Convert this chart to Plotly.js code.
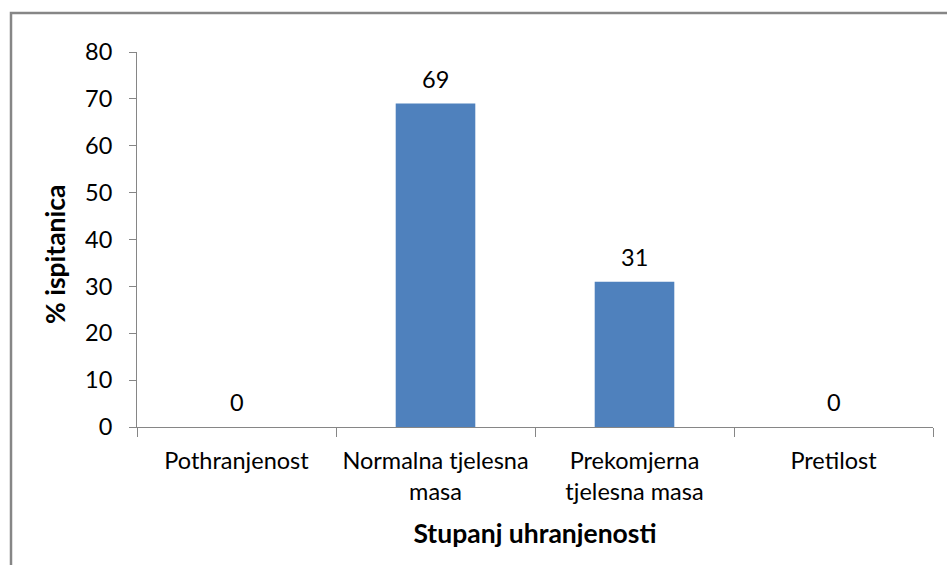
<!DOCTYPE html>
<html>
<head>
<meta charset="utf-8">
<script src="https://cdn.plot.ly/plotly-3.0.1.min.js"></script>
<style>html,body{margin:0;padding:0;background:#fff;}#chart{width:947px;height:565px;}</style>
</head>
<body>
<div id="chart"></div>
<script>
var categories = ["Pothranjenost", "Normalna tjelesna<br>masa", "Prekomjerna<br>tjelesna masa", "Pretilost"];
var values = [0, 69, 31, 0];
var yTicks = [0, 10, 20, 30, 40, 50, 60, 70, 80];
var xTitle = "Stupanj uhranjenosti";
var yTitle = "% ispitanica";

var font = "Lato, 'Open Sans', sans-serif";
var fs = 23.5;
var trace = {
  type: "bar",
  x: categories,
  y: values,
  marker: {color: "#4F81BD"},
  width: 0.4,
  hoverinfo: "none"
};
var annotations = categories.map(function (c, i) {
  return {x: c, y: values[i], xref: "x", yref: "y", text: String(values[i]),
    showarrow: false, yanchor: "middle", yshift: 25,
    font: {family: font, size: fs, color: "#000"}};
});
annotations.push({
  xref: "paper", yref: "paper", x: -82 / 796, y: 173 / 375,
  xanchor: "center", yanchor: "middle", textangle: -90,
  text: "<b>" + yTitle + "</b>", showarrow: false,
  font: {family: font, size: 26.5, color: "#000"}
});
var layout = {
  width: 947, height: 565,
  margin: {l: 137, r: 14, t: 52, b: 138},
  paper_bgcolor: "#fff", plot_bgcolor: "#fff",
  showlegend: false,
  font: {family: font, size: fs, color: "#000"},
  xaxis: {
    type: "category",
    tickson: "boundaries",
    ticks: "outside", ticklen: 9, tickcolor: "#868686", tickwidth: 1,
    showline: true, linecolor: "#868686", linewidth: 1,
    showgrid: false, zeroline: false,
    ticklabelstandoff: 13,
    tickfont: {family: font, size: fs, color: "#000"},
    title: {text: "<b>" + xTitle + "</b>", font: {family: font, size: 26.5, color: "#000"}, standoff: 20},
    fixedrange: true
  },
  yaxis: {
    range: [0, 80],
    tickvals: yTicks,
    ticks: "outside", ticklen: 7, tickcolor: "#868686", tickwidth: 1,
    showline: true, linecolor: "#868686", linewidth: 1,
    showgrid: false, zeroline: false,
    ticklabelstandoff: 12,
    tickfont: {family: font, size: fs, color: "#000"},
    fixedrange: true
  },
  annotations: annotations,
  shapes: [{
    type: "rect", xref: "paper", yref: "paper",
    x0: -126 / 796, x1: 1.05, y0: -0.5, y1: 1 + 39 / 375,
    line: {color: "#868686", width: 2.5}, fillcolor: "rgba(0,0,0,0)", layer: "above"
  }]
};
Plotly.newPlot("chart", [trace], layout, {displayModeBar: false, staticPlot: true});
</script>
</body>
</html>
